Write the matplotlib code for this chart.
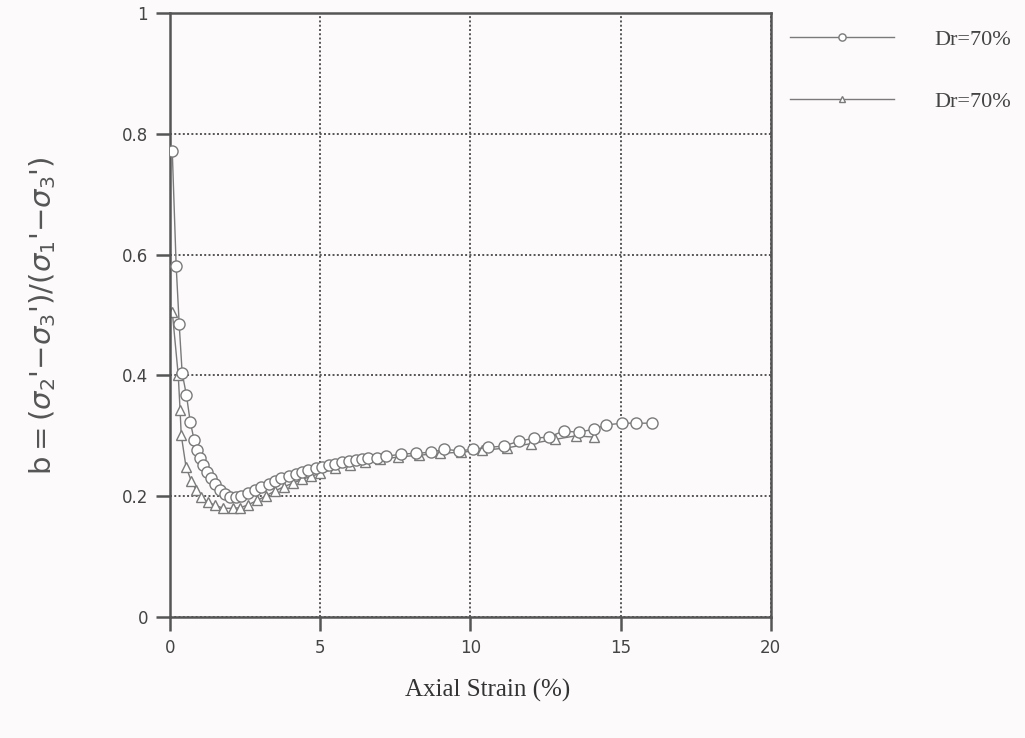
import matplotlib
matplotlib.use("Agg")
import matplotlib.pyplot as plt


# Dr=70% (circles)
strain_c = [0.07, 0.2, 0.3, 0.4, 0.54, 0.67, 0.8, 0.9, 1.0, 1.1, 1.24, 1.37,
            1.5, 1.67, 1.84, 2.0, 2.2, 2.37, 2.6, 2.84, 3.04, 3.28, 3.5, 3.7,
            3.95, 4.18, 4.38, 4.6, 4.85, 5.05, 5.28, 5.5, 5.72, 5.95, 6.2,
            6.4, 6.6, 6.9, 7.2, 7.7, 8.2, 8.7, 9.13, 9.63, 10.1, 10.6, 11.1,
            11.6, 12.1, 12.6, 13.1, 13.6, 14.1, 14.5, 15.05, 15.5, 16.05]
b_c = [0.772, 0.582, 0.486, 0.404, 0.368, 0.323, 0.293, 0.276, 0.263, 0.251,
       0.240, 0.230, 0.221, 0.210, 0.203, 0.198, 0.198, 0.200, 0.205, 0.210,
       0.215, 0.221, 0.225, 0.230, 0.233, 0.236, 0.240, 0.243, 0.246, 0.248,
       0.251, 0.254, 0.256, 0.258, 0.260, 0.261, 0.263, 0.264, 0.266, 0.270,
       0.271, 0.273, 0.278, 0.275, 0.278, 0.281, 0.283, 0.291, 0.296, 0.298,
       0.308, 0.306, 0.311, 0.318, 0.321, 0.321, 0.321]

# Dr=70% (triangles)
strain_t = [0.07, 0.27, 0.33, 0.37, 0.53, 0.7, 0.87, 1.04, 1.27, 1.5, 1.77,
            2.1, 2.34, 2.6, 2.9, 3.2, 3.5, 3.8, 4.1, 4.4, 4.7, 5.0, 5.5, 6.0,
            6.5, 7.0, 7.6, 8.3, 9.0, 9.7, 10.4, 11.2, 12.0, 12.8, 13.5, 14.1]
b_t = [0.506, 0.400, 0.343, 0.301, 0.248, 0.226, 0.210, 0.198, 0.190, 0.185,
       0.180, 0.180, 0.181, 0.186, 0.193, 0.201, 0.209, 0.216, 0.222, 0.228,
       0.233, 0.238, 0.246, 0.252, 0.257, 0.261, 0.265, 0.268, 0.271, 0.273,
       0.276, 0.280, 0.287, 0.294, 0.300, 0.298]

legend_labels = ["Dr=70%", "Dr=70%"]

bg = "#fcfafa"
edge = "#7a7a7a"
axis_col = "#555555"

fig = plt.figure(figsize=(10.25, 7.38), dpi=100, facecolor=bg)
ax = fig.add_axes([0.166, 0.164, 0.586, 0.818], facecolor=bg)

ax.plot(strain_c, b_c, color=edge, linewidth=1.0, marker="o",
        markersize=8, markerfacecolor="white", markeredgecolor=edge,
        markeredgewidth=1.0, label=legend_labels[0], zorder=3)
ax.plot(strain_t, b_t, color=edge, linewidth=1.0, marker="^",
        markersize=7, markerfacecolor="white", markeredgecolor=edge,
        markeredgewidth=1.0, label=legend_labels[1], zorder=2)

ax.set_xlim(0, 20)
ax.set_ylim(0, 1)
ax.set_xticks([0, 5, 10, 15, 20])
ax.set_yticks([0, 0.2, 0.4, 0.6, 0.8, 1])
ax.set_yticklabels(["0", "0.2", "0.4", "0.6", "0.8", "1"])

ax.grid(True, color="#555555", linestyle=(0, (1, 1.2)), linewidth=1.4)
ax.set_axisbelow(True)

for s in ax.spines.values():
    s.set_color(axis_col)
    s.set_linewidth(1.8)

ax.tick_params(direction="out", length=10, width=1.8, color=axis_col,
               labelsize=12, labelcolor="#444444", pad=6)

ax.set_xlabel("Axial Strain (%)", family="Liberation Serif", fontsize=18,
              color="#333333")
ax.xaxis.set_label_coords(0.528, -0.102)
ax.set_ylabel(r"b$=(\sigma_2$'$-\sigma_3$'$)/(\sigma_1$'$-\sigma_3$'$)$",
              fontsize=21, color="#555555", labelpad=46)

ax.legend(loc="upper left", bbox_to_anchor=(790 / 1025, 0.960),
          bbox_transform=fig.transFigure, frameon=False,
          borderpad=0, borderaxespad=0, markerscale=0.65,
          handlelength=4.7, handletextpad=1.8, labelspacing=1.85,
          prop={"family": "Liberation Serif", "size": 16},
          labelcolor="#444444")

plt.savefig("out.png", dpi=100, facecolor=bg)
